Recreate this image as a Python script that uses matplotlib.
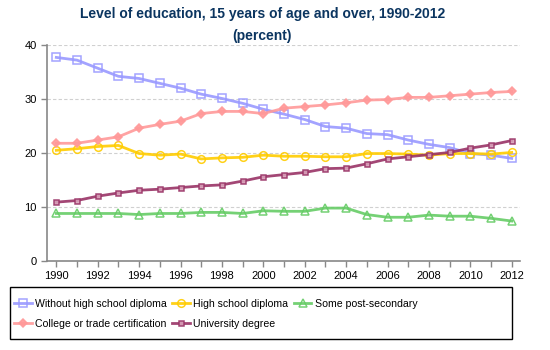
import matplotlib
matplotlib.use("Agg")
import matplotlib.pyplot as plt
from matplotlib.patches import Rectangle

plt.rcParams['font.family'] = ['Liberation Sans', 'DejaVu Sans']

years = list(range(1990, 2013))
without_hs = [37.7, 37.2, 35.7, 34.2, 33.8, 32.9, 32.0, 30.9, 30.1, 29.2, 28.1, 27.2,
              26.2, 24.9, 24.6, 23.6, 23.4, 22.4, 21.6, 21.0, 19.9, 19.6, 19.0]
hs_diploma = [20.5, 20.8, 21.2, 21.4, 19.9, 19.6, 19.8, 18.9, 19.1, 19.2, 19.6, 19.4,
              19.4, 19.3, 19.3, 19.9, 19.9, 19.8, 19.6, 19.9, 19.9, 19.8, 20.1]
some_post = [8.8, 8.8, 8.8, 8.8, 8.6, 8.8, 8.8, 9.0, 9.0, 8.8, 9.3, 9.2,
             9.2, 9.8, 9.8, 8.6, 8.1, 8.1, 8.5, 8.3, 8.3, 7.9, 7.4]
college = [21.8, 21.8, 22.4, 23.0, 24.6, 25.3, 25.9, 27.3, 27.7, 27.7, 27.3, 28.3,
           28.6, 28.9, 29.3, 29.8, 29.9, 30.3, 30.3, 30.6, 30.9, 31.2, 31.4]
university = [10.9, 11.2, 12.0, 12.6, 13.1, 13.3, 13.6, 13.9, 14.1, 14.8, 15.6, 16.0,
              16.4, 17.1, 17.2, 18.0, 18.9, 19.3, 19.7, 20.1, 20.9, 21.5, 22.3]

labels = ["Without high school diploma", "High school diploma", "Some post-secondary",
          "College or trade certification", "University degree"]
title = "Level of education, 15 years of age and over, 1990-2012"
subtitle = "(percent)"

fig = plt.figure(figsize=(5.5, 3.5), dpi=100)
ax = fig.add_axes([47/550, 1 - 261/350, (520 - 47)/550, (261 - 45)/350])

styles = [
    (without_hs, '#9999FF', 's', 'none', 5.5),
    (hs_diploma, '#FFCC00', 'o', 'none', 5.5),
    (some_post, '#66CC66', '^', 'none', 5.5),
    (college, '#FF9999', 'D', '#FF9999', 4.2),
    (university, '#993366', 's', '#D8A0B8', 3.6),
]
handles = []
for (vals, col, mk, mfc, ms), lab in zip(styles, labels):
    h, = ax.plot(years, vals, color=col, lw=2, marker=mk, markersize=ms,
                 markerfacecolor=mfc, markeredgecolor=col, markeredgewidth=1.1,
                 label=lab, alpha=0.9)
    handles.append(h)

ax.set_xlim(1989.55, 2012.4)
ax.set_ylim(0, 40)
ax.set_yticks([0, 10, 20, 30, 40])
ax.set_xticks(years, minor=False)
ax.set_xticklabels([str(y) if y % 2 == 0 else '' for y in years])
ax.tick_params(axis='both', labelsize=8, color='#888888', length=4, width=1, direction='out')
ax.grid(axis='y', color='#d0d0d0', linestyle=(0, (3, 2)), lw=0.8)
ax.set_axisbelow(True)
for s in ['top', 'right']:
    ax.spines[s].set_visible(False)
for s in ['left', 'bottom']:
    ax.spines[s].set_color('#888888')
    ax.spines[s].set_linewidth(1.2)

fig.text(0.477, 1 - 14/350, title, ha='center', va='center', fontsize=10,
         fontweight='bold', color='#0B3560')
fig.text(0.477, 1 - 36/350, subtitle, ha='center', va='center', fontsize=10,
         fontweight='bold', color='#0B3560')

order = [0, 3, 1, 4, 2]
leg = fig.legend([handles[i] for i in order], [labels[i] for i in order],
                 ncol=3, loc='center left', bbox_to_anchor=(14/550, 1 - 314/350),
                 frameon=False, fontsize=7.6, handlelength=1.7, handletextpad=0.3,
                 columnspacing=0.5, labelspacing=0.95, borderaxespad=0, borderpad=0)
fig.patches.append(Rectangle((10/550, 1 - 339/350), (512 - 10)/550, (339 - 287)/350,
                             transform=fig.transFigure, fill=False, edgecolor='black', lw=1))

fig.savefig('out.png', dpi=100)
